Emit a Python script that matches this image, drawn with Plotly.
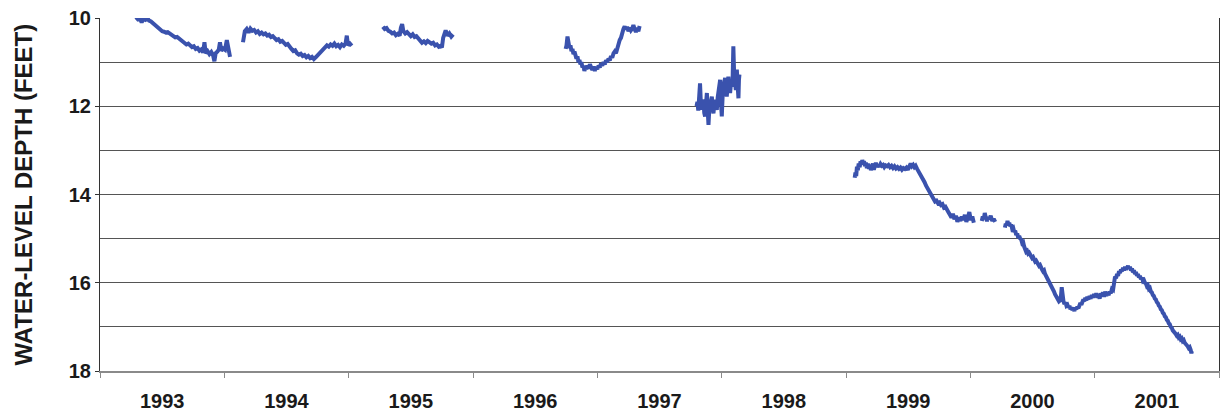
import plotly.graph_objects as go

# ---- data (decimal year, depth in feet) ----
seg1_year = [1993.290, 1993.305, 1993.320, 1993.335, 1993.350, 1993.365, 1993.380, 1993.395, 1993.410, 1993.425,
             1993.440, 1993.455, 1993.470, 1993.485, 1993.500, 1993.515, 1993.530, 1993.545, 1993.560, 1993.575,
             1993.590, 1993.605, 1993.620, 1993.635, 1993.650, 1993.665, 1993.680, 1993.695, 1993.710, 1993.725,
             1993.740, 1993.755, 1993.770, 1993.785, 1993.800, 1993.815, 1993.830, 1993.840, 1993.850, 1993.865,
             1993.880, 1993.895, 1993.910, 1993.920, 1993.930, 1993.945, 1993.955, 1993.965, 1993.975, 1993.990,
             1994.005, 1994.020, 1994.030, 1994.040, 1994.046]
seg1_depth = [9.98, 10.03, 10.01, 10.10, 10.02, 10.04, 10.00, 10.06, 10.08, 10.12,
              10.15, 10.20, 10.23, 10.27, 10.30, 10.31, 10.33, 10.32, 10.35, 10.38,
              10.41, 10.44, 10.43, 10.47, 10.50, 10.54, 10.57, 10.60, 10.58, 10.63,
              10.66, 10.64, 10.70, 10.68, 10.74, 10.71, 10.78, 10.55, 10.80, 10.75,
              10.82, 10.77, 10.85, 10.98, 10.80, 10.76, 10.72, 10.55, 10.74, 10.69,
              10.72, 10.50, 10.70, 10.78, 10.88]

seg2_year = [1994.150, 1994.155, 1994.165, 1994.180, 1994.195, 1994.210, 1994.225, 1994.240, 1994.255, 1994.270,
             1994.285, 1994.300, 1994.315, 1994.330, 1994.345, 1994.360, 1994.375, 1994.390, 1994.405, 1994.420,
             1994.435, 1994.450, 1994.465, 1994.480, 1994.495, 1994.510, 1994.525, 1994.540, 1994.555, 1994.570,
             1994.585, 1994.600, 1994.615, 1994.630, 1994.645, 1994.660, 1994.675, 1994.690, 1994.705, 1994.720,
             1994.735, 1994.750, 1994.765, 1994.780, 1994.795, 1994.810, 1994.825, 1994.840, 1994.855, 1994.870,
             1994.885, 1994.900, 1994.915, 1994.930, 1994.945, 1994.960, 1994.975, 1994.985, 1994.995, 1995.010,
             1995.025]
seg2_depth = [10.55, 10.40, 10.30, 10.25, 10.33, 10.24, 10.29, 10.27, 10.33, 10.30,
              10.36, 10.33, 10.37, 10.35, 10.40, 10.38, 10.43, 10.41, 10.47, 10.50,
              10.48, 10.54, 10.52, 10.58, 10.61, 10.59, 10.66, 10.70, 10.75, 10.73,
              10.80, 10.83, 10.81, 10.86, 10.84, 10.89, 10.86, 10.91, 10.88, 10.93,
              10.89, 10.85, 10.80, 10.75, 10.70, 10.66, 10.62, 10.65, 10.60, 10.63,
              10.58, 10.64, 10.61, 10.66, 10.60, 10.63, 10.58, 10.40, 10.62, 10.58,
              10.63]

seg3_year = [1995.275, 1995.290, 1995.305, 1995.320, 1995.335, 1995.350, 1995.365, 1995.380, 1995.395, 1995.410,
             1995.420, 1995.430, 1995.440, 1995.455, 1995.470, 1995.485, 1995.500, 1995.515, 1995.530, 1995.545,
             1995.560, 1995.575, 1995.590, 1995.605, 1995.620, 1995.635, 1995.650, 1995.665, 1995.680, 1995.695,
             1995.710, 1995.725, 1995.740, 1995.750, 1995.760, 1995.770, 1995.780, 1995.795, 1995.810, 1995.825,
             1995.840]
seg3_depth = [10.20, 10.25, 10.23, 10.29, 10.31, 10.35, 10.33, 10.39, 10.36, 10.40,
              10.22, 10.14, 10.30, 10.35, 10.32, 10.38, 10.41, 10.37, 10.43, 10.41,
              10.47, 10.50, 10.56, 10.53, 10.57, 10.52, 10.55, 10.58, 10.56, 10.62,
              10.60, 10.65, 10.63, 10.67, 10.45, 10.32, 10.28, 10.40, 10.35, 10.42,
              10.37]

seg4_year = [1996.745, 1996.752, 1996.760, 1996.768, 1996.776, 1996.784, 1996.792, 1996.800, 1996.808, 1996.816,
             1996.824, 1996.832, 1996.840, 1996.848, 1996.856, 1996.864, 1996.872, 1996.880, 1996.888, 1996.896,
             1996.904, 1996.912, 1996.920, 1996.930, 1996.940, 1996.950, 1996.960, 1996.970, 1996.980, 1996.990,
             1997.000, 1997.010, 1997.020, 1997.030, 1997.040, 1997.050, 1997.060, 1997.070, 1997.080, 1997.090,
             1997.100, 1997.110, 1997.120, 1997.130, 1997.140, 1997.150, 1997.160, 1997.170, 1997.180, 1997.190,
             1997.200, 1997.210, 1997.220, 1997.230, 1997.240, 1997.250, 1997.260, 1997.270, 1997.280, 1997.290,
             1997.300, 1997.310, 1997.320, 1997.330, 1997.340]
seg4_depth = [10.70, 10.62, 10.42, 10.55, 10.68, 10.62, 10.75, 10.70, 10.82, 10.76,
              10.88, 10.92, 10.87, 11.00, 10.95, 11.05, 11.00, 11.12, 11.08, 11.20,
              11.10, 11.16, 11.08, 11.14, 11.05, 11.12, 11.18, 11.10, 11.20, 11.12,
              11.16, 11.08, 11.12, 11.03, 11.08, 11.00, 11.05, 10.96, 11.00, 10.92,
              10.96, 10.86, 10.90, 10.80, 10.76, 10.80, 10.68, 10.62, 10.50, 10.45,
              10.32, 10.25, 10.19, 10.26, 10.20, 10.30, 10.22, 10.28, 10.24, 10.16,
              10.25, 10.32, 10.22, 10.30, 10.18]

seg5_year = [1997.798, 1997.805, 1997.812, 1997.819, 1997.826, 1997.833, 1997.840, 1997.847, 1997.854, 1997.860,
             1997.867, 1997.874, 1997.881, 1997.887, 1997.894, 1997.900, 1997.907, 1997.914, 1997.921, 1997.927,
             1997.934, 1997.941, 1997.948, 1997.954, 1997.961, 1997.968, 1997.974, 1997.981, 1997.988, 1997.994,
             1998.001, 1998.008, 1998.014, 1998.021, 1998.028, 1998.034, 1998.041, 1998.048, 1998.054, 1998.061,
             1998.068, 1998.074, 1998.081, 1998.088, 1998.094, 1998.100, 1998.106, 1998.114, 1998.118, 1998.122,
             1998.128, 1998.135, 1998.139, 1998.143]
seg5_depth = [12.00, 11.90, 12.10, 11.55, 11.48, 11.95, 12.08, 11.90, 11.85, 12.15,
              12.23, 11.95, 11.70, 12.05, 12.42, 12.10, 12.01, 11.85, 11.78, 12.05,
              12.16, 11.95, 11.85, 12.00, 12.08, 11.80, 11.70, 11.50, 11.40, 11.90,
              12.23, 11.75, 11.55, 11.45, 11.36, 11.60, 11.78, 11.50, 11.33, 11.55,
              11.70, 11.50, 11.55, 11.40, 10.64, 11.25, 11.45, 11.63, 11.30, 11.17,
              11.50, 11.82, 11.40, 11.28]

seg6_year = [1999.070, 1999.076, 1999.082, 1999.088, 1999.095, 1999.102, 1999.110, 1999.117, 1999.124, 1999.131,
             1999.138, 1999.145, 1999.152, 1999.160, 1999.168, 1999.176, 1999.184, 1999.192, 1999.200, 1999.208,
             1999.216, 1999.224, 1999.232, 1999.240, 1999.248, 1999.258, 1999.268, 1999.278, 1999.288, 1999.298,
             1999.308, 1999.318, 1999.330, 1999.342, 1999.354, 1999.366, 1999.378, 1999.390, 1999.402, 1999.414,
             1999.426, 1999.438, 1999.450, 1999.462, 1999.474, 1999.486, 1999.498, 1999.510, 1999.520, 1999.530,
             1999.540, 1999.550, 1999.560, 1999.572, 1999.584, 1999.596, 1999.608, 1999.620, 1999.632, 1999.644,
             1999.656, 1999.668, 1999.680, 1999.692, 1999.704, 1999.716, 1999.728, 1999.740, 1999.752, 1999.764,
             1999.776, 1999.788, 1999.800, 1999.812, 1999.824, 1999.836, 1999.848, 1999.860, 1999.872, 1999.884,
             1999.896, 1999.908, 1999.920, 1999.932, 1999.944, 1999.956, 1999.968, 1999.980, 1999.992, 2000.004,
             2000.016, 2000.028]
seg6_depth = [13.62, 13.50, 13.58, 13.37, 13.45, 13.30, 13.38, 13.25, 13.32, 13.22,
              13.30, 13.24, 13.36, 13.28, 13.40, 13.30, 13.42, 13.32, 13.45, 13.36,
              13.30, 13.44, 13.35, 13.28, 13.38, 13.32, 13.37, 13.31, 13.35, 13.33,
              13.38, 13.34, 13.36, 13.33, 13.38, 13.35, 13.40, 13.36, 13.41, 13.38,
              13.42, 13.39, 13.44, 13.40, 13.42, 13.39, 13.44, 13.38, 13.30, 13.36,
              13.33, 13.38, 13.35, 13.42, 13.48, 13.52, 13.56, 13.66, 13.72, 13.80,
              13.86, 13.95, 14.02, 14.06, 14.12, 14.16, 14.14, 14.20, 14.18, 14.24,
              14.22, 14.30, 14.28, 14.36, 14.40, 14.46, 14.52, 14.44, 14.56, 14.48,
              14.62, 14.52, 14.60, 14.50, 14.58, 14.46, 14.62, 14.52, 14.40, 14.58,
              14.50, 14.64]

seg7_year = [2000.092, 2000.100, 2000.108, 2000.116, 2000.124, 2000.134, 2000.144, 2000.154, 2000.164, 2000.176,
             2000.188, 2000.200]
seg7_depth = [14.60, 14.50, 14.56, 14.42, 14.52, 14.60, 14.52, 14.56, 14.48, 14.60,
              14.55, 14.62]

seg8_year = [2000.278, 2000.285, 2000.292, 2000.299, 2000.306, 2000.313, 2000.321, 2000.329, 2000.337, 2000.345,
             2000.353, 2000.361, 2000.369, 2000.377, 2000.385, 2000.393, 2000.401, 2000.409, 2000.417, 2000.425,
             2000.433, 2000.441, 2000.449, 2000.457, 2000.465, 2000.473, 2000.481, 2000.489, 2000.497, 2000.505,
             2000.513, 2000.521, 2000.529, 2000.537, 2000.545, 2000.553, 2000.561, 2000.569, 2000.577, 2000.585,
             2000.593, 2000.601, 2000.609, 2000.617, 2000.625, 2000.633, 2000.641, 2000.649, 2000.657, 2000.665,
             2000.673, 2000.681, 2000.689, 2000.697, 2000.705, 2000.713, 2000.721, 2000.729, 2000.735, 2000.741,
             2000.749, 2000.757, 2000.765, 2000.773, 2000.781, 2000.789, 2000.797, 2000.805, 2000.813, 2000.821,
             2000.829, 2000.837, 2000.845, 2000.853, 2000.861, 2000.869, 2000.877, 2000.885, 2000.893, 2000.901,
             2000.909, 2000.917, 2000.925, 2000.933, 2000.941, 2000.950, 2000.959, 2000.968, 2000.977, 2000.986,
             2000.995, 2001.004, 2001.013, 2001.022, 2001.031, 2001.040, 2001.049, 2001.058, 2001.067, 2001.076,
             2001.085, 2001.094, 2001.103, 2001.112, 2001.121, 2001.130, 2001.139, 2001.148, 2001.156, 2001.164,
             2001.172, 2001.180, 2001.188, 2001.196, 2001.204, 2001.212, 2001.220, 2001.228, 2001.236, 2001.244,
             2001.252, 2001.260, 2001.268, 2001.276, 2001.284, 2001.292, 2001.300, 2001.308, 2001.316, 2001.324,
             2001.332, 2001.340, 2001.348, 2001.356, 2001.364, 2001.372, 2001.380, 2001.388, 2001.396, 2001.404,
             2001.412, 2001.420, 2001.428, 2001.436, 2001.444, 2001.452, 2001.460, 2001.468, 2001.476, 2001.484,
             2001.492, 2001.500, 2001.508, 2001.516, 2001.524, 2001.532, 2001.540, 2001.548, 2001.556, 2001.564,
             2001.572, 2001.580, 2001.588, 2001.596, 2001.604, 2001.612, 2001.620, 2001.628, 2001.636, 2001.644,
             2001.652, 2001.660, 2001.668, 2001.676, 2001.684, 2001.692, 2001.700, 2001.708, 2001.716, 2001.724,
             2001.732, 2001.740, 2001.748, 2001.756, 2001.764, 2001.772, 2001.778, 2001.782]
seg8_depth = [14.75, 14.66, 14.70, 14.60, 14.68, 14.64, 14.72, 14.68, 14.78, 14.76,
              14.85, 14.82, 14.92, 14.88, 14.98, 14.94, 15.00, 15.02, 15.10, 15.08,
              15.18, 15.22, 15.30, 15.28, 15.34, 15.32, 15.38, 15.40, 15.44, 15.42,
              15.48, 15.52, 15.50, 15.56, 15.58, 15.62, 15.60, 15.68, 15.70, 15.74,
              15.72, 15.80, 15.84, 15.88, 15.92, 15.98, 16.02, 16.06, 16.10, 16.16,
              16.20, 16.26, 16.30, 16.34, 16.38, 16.42, 16.40, 16.30, 16.10, 16.35,
              16.42, 16.48, 16.44, 16.52, 16.50, 16.56, 16.52, 16.60, 16.56, 16.62,
              16.58, 16.64, 16.56, 16.60, 16.54, 16.58, 16.50, 16.46, 16.50, 16.42,
              16.38, 16.42, 16.34, 16.40, 16.32, 16.38, 16.30, 16.36, 16.28, 16.34,
              16.26, 16.32, 16.24, 16.34, 16.26, 16.36, 16.24, 16.30, 16.22, 16.32,
              16.20, 16.30, 16.22, 16.28, 16.20, 16.24, 16.14, 16.16, 15.98, 15.86,
              15.90, 15.80, 15.84, 15.74, 15.78, 15.70, 15.74, 15.66, 15.72, 15.64,
              15.70, 15.66, 15.62, 15.68, 15.64, 15.72, 15.68, 15.76, 15.72, 15.80,
              15.76, 15.84, 15.80, 15.88, 15.84, 15.92, 15.88, 15.96, 15.94, 16.00,
              16.02, 16.08, 16.06, 16.14, 16.12, 16.20, 16.22, 16.28, 16.30, 16.36,
              16.38, 16.44, 16.46, 16.52, 16.54, 16.60, 16.62, 16.68, 16.70, 16.76,
              16.78, 16.84, 16.86, 16.92, 16.94, 17.00, 17.02, 17.08, 17.10, 17.14,
              17.16, 17.20, 17.18, 17.24, 17.22, 17.28, 17.26, 17.32, 17.30, 17.36,
              17.38, 17.42, 17.44, 17.48, 17.46, 17.52, 17.60, 17.55]

year_labels = ["1993", "1994", "1995", "1996", "1997", "1998", "1999", "2000", "2001"]
year_bounds = [1993, 1994, 1995, 1996, 1997, 1998, 1999, 2000, 2001, 2002]
depth_labels = [10, 12, 14, 16, 18]
depth_grid = [11, 13, 15, 17]

segments = [(seg1_year, seg1_depth), (seg2_year, seg2_depth), (seg3_year, seg3_depth),
            (seg4_year, seg4_depth), (seg5_year, seg5_depth), (seg6_year, seg6_depth),
            (seg7_year, seg7_depth), (seg8_year, seg8_depth)]
xs, ys = [], []
for sx, sy in segments:
    xs += list(sx) + [None]
    ys += list(sy) + [None]

fig = go.Figure()
fig.add_trace(go.Scatter(x=xs, y=ys, mode="lines", connectgaps=False,
                         line=dict(color="#3a52ad", width=4), showlegend=False,
                         hoverinfo="skip"))

font_family = "Liberation Sans, Arial, sans-serif"

fig.update_layout(
    width=1221, height=413,
    margin=dict(l=100, r=2, t=18, b=42),
    paper_bgcolor="white", plot_bgcolor="white",
    showlegend=False,
    font=dict(family=font_family, color="#1a1a1a"),
    xaxis=dict(
        range=[year_bounds[0], year_bounds[-1]],
        tickmode="array",
        tickvals=[b + 0.5 for b in year_bounds[:-1]],
        ticktext=["<b>%s</b>" % t for t in year_labels],
        ticks="outside", ticklen=11, tickcolor="rgba(0,0,0,0)",
        tickfont=dict(size=20, family=font_family, color="#1a1a1a"),
        showgrid=False, zeroline=False,
        showline=True, linecolor="#8a8a8a", linewidth=2,
        minor=dict(tickmode="array", tickvals=year_bounds, ticks="outside",
                   ticklen=5, tickcolor="#8a8a8a", tickwidth=1, showgrid=False),
    ),
    yaxis=dict(
        range=[18, 10],
        tickmode="array",
        tickvals=depth_labels,
        ticktext=["<b>%d</b>" % v for v in depth_labels],
        ticks="outside", ticklen=4, tickcolor="#333333", tickwidth=1,
        tickfont=dict(size=20, family=font_family, color="#1a1a1a"),
        showgrid=True, gridcolor="#555555", gridwidth=1,
        zeroline=False,
        showline=True, linecolor="#333333", linewidth=1, mirror=True,
        minor=dict(tickmode="array", tickvals=depth_grid, ticks="",
                   showgrid=True, gridcolor="#555555", gridwidth=1),
    ),
    annotations=[dict(
        text="<b>WATER-LEVEL DEPTH (FEET)</b>", textangle=-90,
        xref="paper", yref="paper", x=0, y=0.5, xanchor="center", yanchor="middle",
        xshift=-77, showarrow=False,
        font=dict(size=24, family=font_family, color="#1a1a1a"),
    )],
)

fig.write_html("out.html",
               config={"displayModeBar": False},
               post_script="document.body.style.margin='0';document.body.style.overflow='hidden';")
